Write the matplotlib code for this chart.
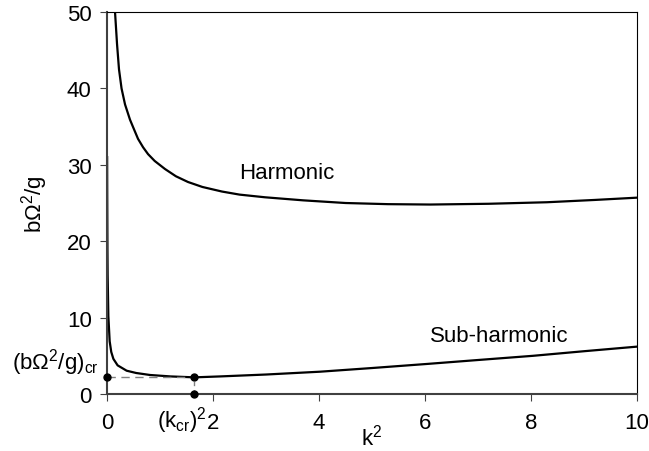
import numpy as np
import matplotlib
matplotlib.use('Agg')
import matplotlib.pyplot as plt

plt.rcParams['font.family'] = ['Liberation Sans', 'DejaVu Sans']
plt.rcParams['mathtext.fontset'] = 'custom'
plt.rcParams['mathtext.rm'] = 'Liberation Sans'

# values
harm_k2 = [0.13, 0.151, 0.189, 0.226, 0.274, 0.34, 0.434, 0.5, 0.585, 0.68, 0.774, 0.9,
           1.094, 1.3, 1.528, 1.8, 2.17, 2.5, 2.98, 3.7, 4.5, 5.3, 6.1, 7.2, 8.3, 9.2, 10.0]
harm_y = [55.0, 50.0, 45.8, 42.5, 40.0, 37.9, 35.9, 34.8, 33.4, 32.3, 31.4, 30.5,
          29.45, 28.5, 27.75, 27.1, 26.5, 26.1, 25.75, 25.35, 25.0, 24.85, 24.8, 24.9,
          25.1, 25.4, 25.7]

sub_k2 = [0.002, 0.004, 0.008, 0.012, 0.025, 0.05, 0.08, 0.12, 0.2, 0.37, 0.55, 0.81,
          1.2, 1.65, 2.13, 3.0, 4.02, 5.0, 6.03, 7.0, 8.04, 9.0, 10.0]
sub_y = [31.0, 26.0, 19.0, 15.5, 10.2, 6.9, 5.5, 4.6, 3.75, 3.05, 2.75, 2.49,
         2.3, 2.18, 2.3, 2.55, 2.92, 3.4, 3.93, 4.45, 5.0, 5.6, 6.2]

k2_cr = 1.65
y_cr = 2.18

fig = plt.figure(figsize=(6.49, 4.52), dpi=100)
ax = fig.add_axes([0.1649, 0.1261, 0.8166, 0.8451])

ax.plot(harm_k2, harm_y, color='black', lw=1.6)
ax.plot(sub_k2, sub_y, color='black', lw=1.6)

ax.plot([0, k2_cr], [y_cr, y_cr], ls=(0, (6, 4)), color='#808080', lw=1.0, clip_on=False)
ax.plot([k2_cr, k2_cr], [0, y_cr], ls=(0, (3, 3)), color='#808080', lw=1.0, clip_on=False)
ax.plot([0, k2_cr, k2_cr], [y_cr, y_cr, 0], 'o', color='black', ms=5, clip_on=False, zorder=5)

ax.text(3.4, 29, 'Harmonic', fontsize=16, ha='center', va='center')
ax.text(7.4, 7.6, 'Sub-harmonic', fontsize=16, ha='center', va='center')

ax.set_xlim(0, 10)
ax.set_ylim(0, 50)
ax.set_xticks([0, 2, 4, 6, 8, 10])
ax.set_yticks([0, 10, 20, 30, 40, 50])
ax.tick_params(direction='out', length=5, labelsize=16, color='#404040')
ax.tick_params(axis='x', pad=8)
ax.tick_params(axis='y', pad=6)
ax.spines['left'].set_color('#404040')
ax.spines['bottom'].set_color('#404040')
ax.spines['left'].set_linewidth(1.5)
ax.spines['bottom'].set_linewidth(1.5)

ax.set_xlabel(r'k$\mathregular{^2}$', fontsize=16, labelpad=-7)
ax.set_ylabel(r'b$\mathregular{\Omega^2}$/g', fontsize=16, labelpad=12)

ax.text(-0.15, 4.3, r'(b$\mathregular{\Omega^2}$/g)$\mathregular{_{cr}}$', fontsize=16,
        ha='right', va='center')
ax.text(1.88, -3.3, r'(k$\mathregular{_{cr}}$)$\mathregular{^2}$', fontsize=16,
        ha='right', va='center')

fig.savefig('out.png', dpi=100)
